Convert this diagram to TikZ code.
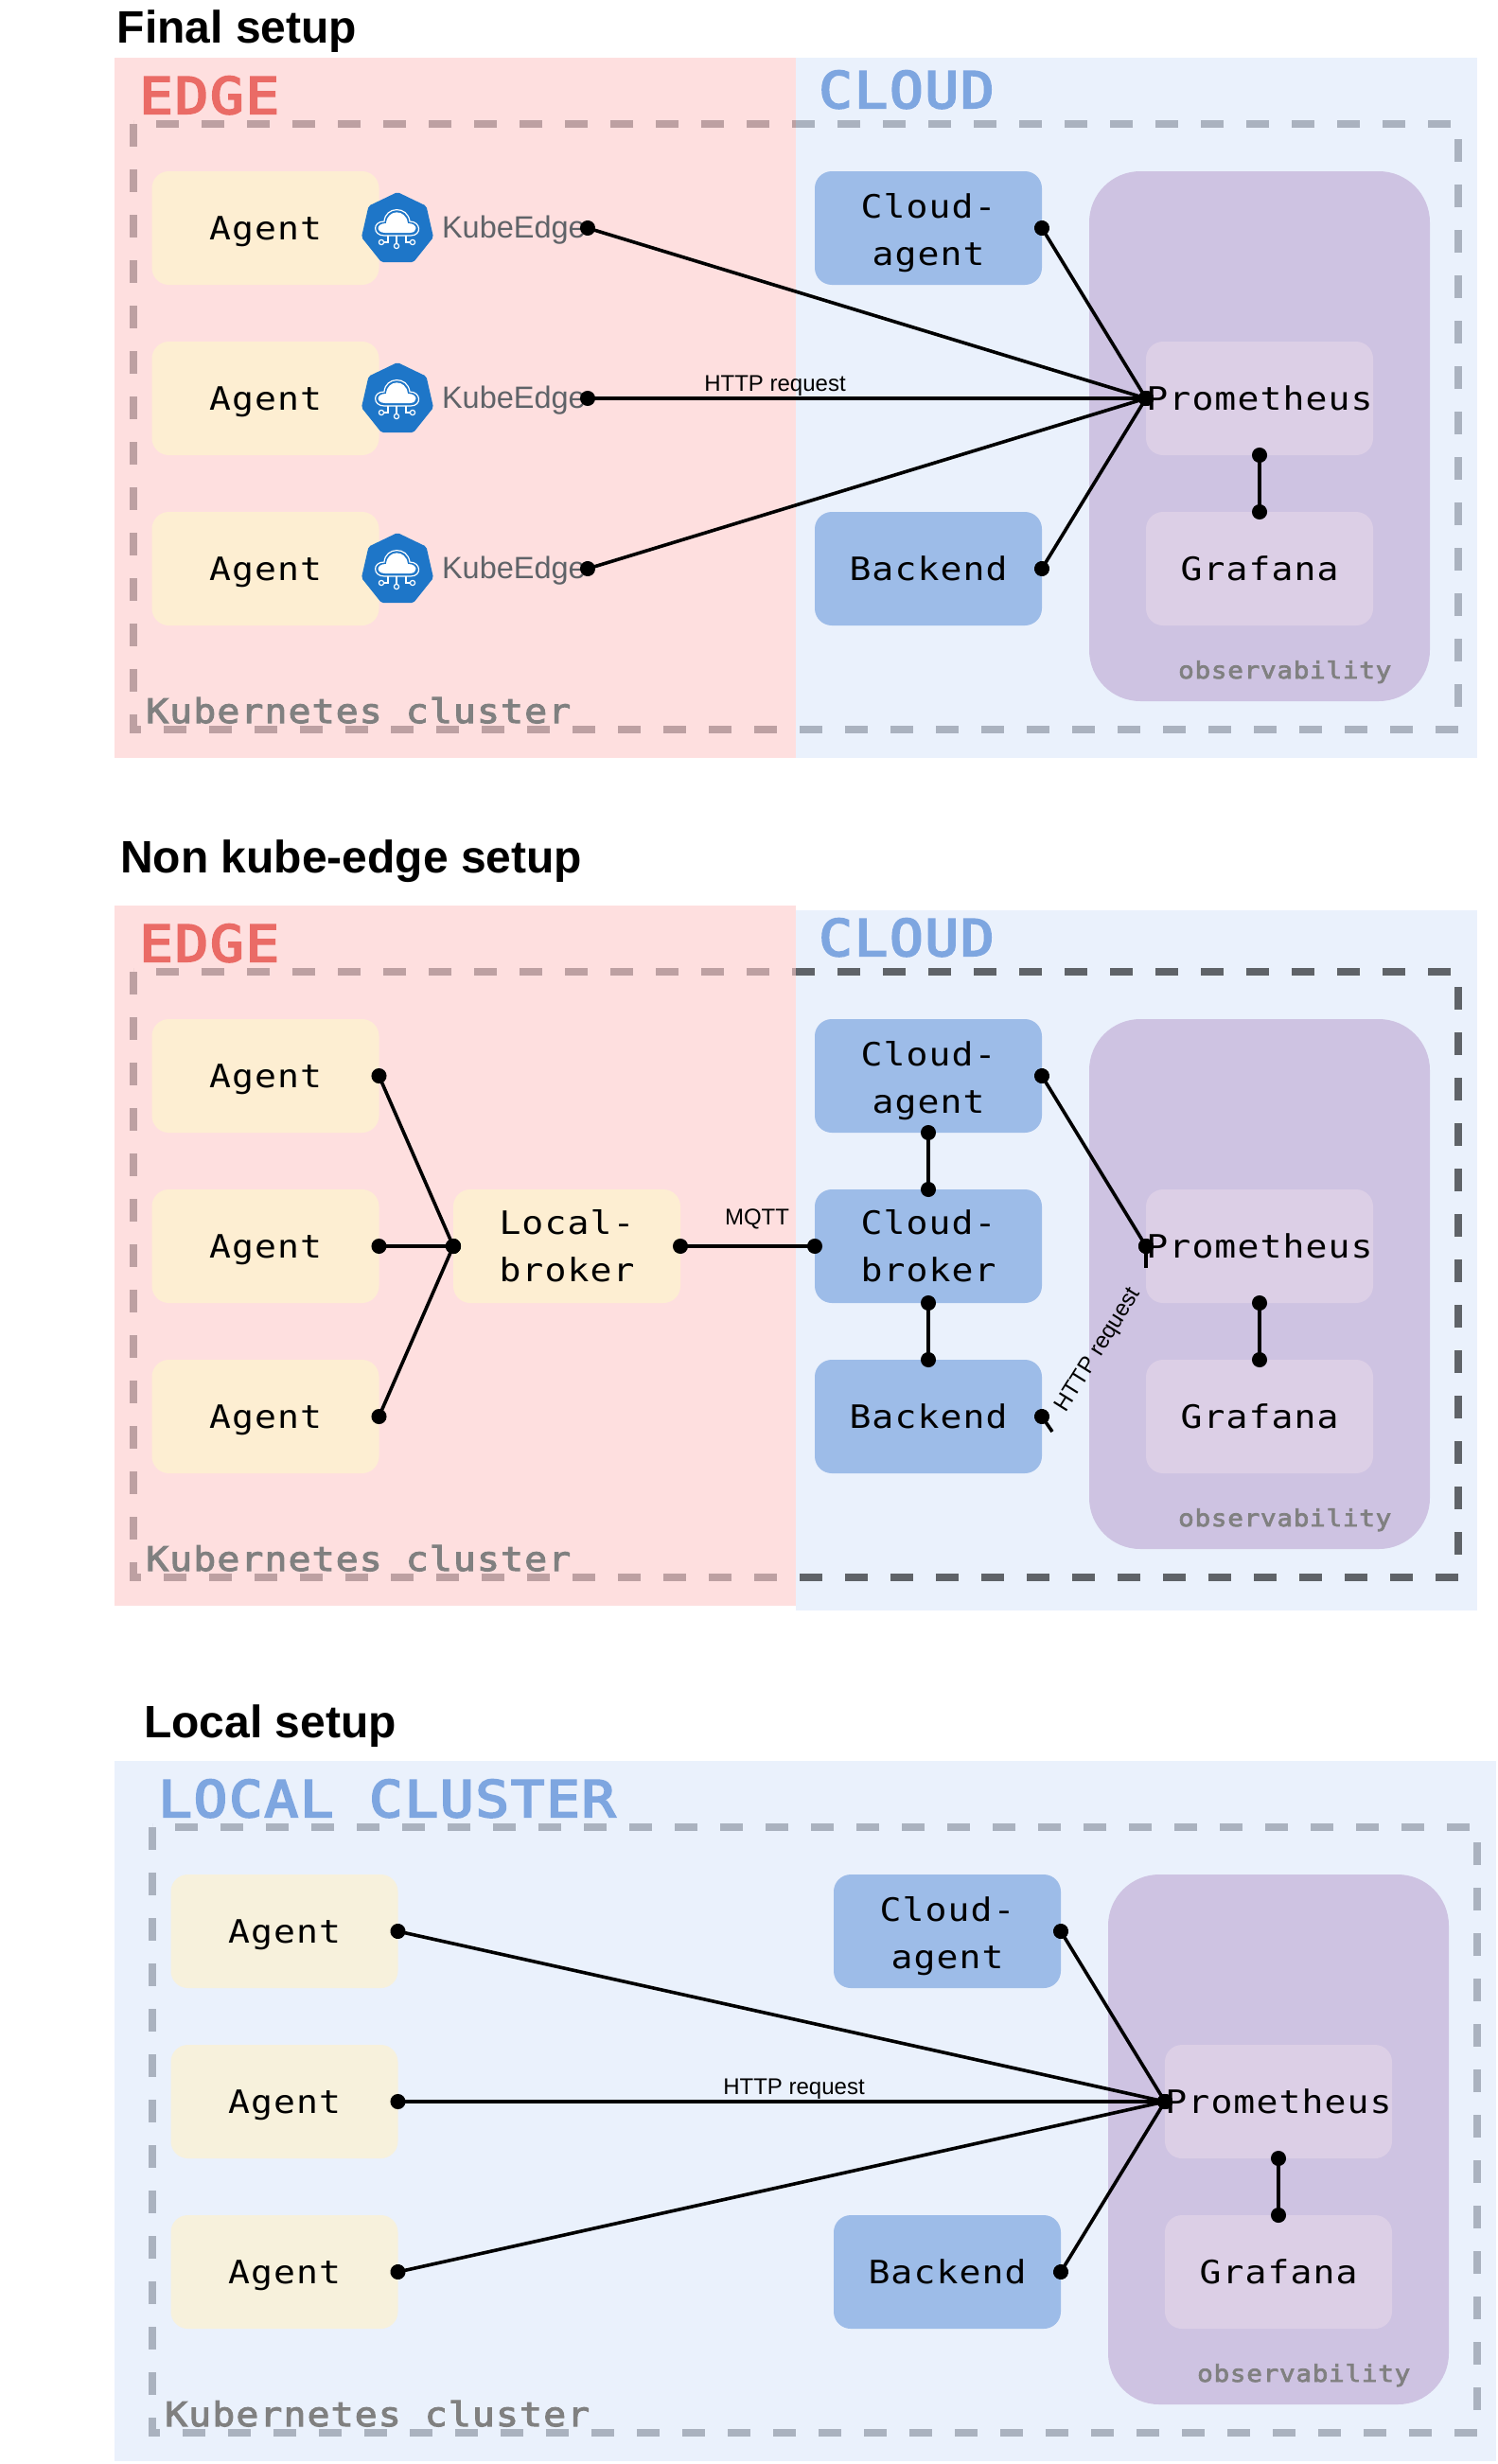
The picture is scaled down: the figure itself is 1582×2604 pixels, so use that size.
\documentclass[tikz,border=0pt]{standalone}
\usepackage{fontspec}
\usetikzlibrary{arrows.meta,shapes.geometric}
\setmainfont{Liberation Sans}
\newfontfamily\boxfont[FakeStretch=1.12,LetterSpace=3.2]{DejaVu Sans Mono}
\newfontfamily\zonefont[FakeStretch=1.12,LetterSpace=3.2,FakeBold=4]{DejaVu Sans Mono}
\newfontfamily\notefont[FakeStretch=1.12,LetterSpace=3.2,FakeBold=3]{DejaVu Sans Mono}
\definecolor{edgefill}{HTML}{FDCACA}
\definecolor{cloudfill}{HTML}{DCE7FA}
\definecolor{edgetext}{HTML}{EA6B66}
\definecolor{cloudtext}{HTML}{7EA6E0}
\definecolor{dashgrey}{HTML}{5F6368}
\definecolor{agentyellow}{HTML}{FDEED2}
\definecolor{agentpale}{HTML}{F7F1DC}
\definecolor{serviceblue}{HTML}{9DBCE8}
\definecolor{obspurple}{HTML}{CEC3E2}
\definecolor{obslight}{HTML}{DCCFE6}
\definecolor{kubeblue}{HTML}{1E76C8}
\tikzset{
  panelfill/.style={opacity=0.6},
  clusterline/.style={draw=dashgrey, line width=8pt, dash pattern=on 24pt off 24pt},
  plainbox/.style={inner sep=0pt, outer sep=0pt, minimum width=240pt, minimum height=120pt,
    rounded corners=18pt, align=center, font=\boxfont\fontsize{34}{50}\selectfont},
  oneline/.style={text height=25pt, text depth=0pt},
  agentbox/.style={plainbox, fill=agentyellow},
  agentlocal/.style={plainbox, fill=agentpale},
  servicebox/.style={plainbox, fill=serviceblue},
  obsbox/.style={plainbox, fill=obslight},
  obsgroup/.style={inner sep=0pt, outer sep=0pt, minimum width=360pt, minimum height=560pt,
    rounded corners=54pt, fill=obspurple},
  zonelabel/.style={anchor=base west, inner sep=0pt, font=\zonefont\fontsize{53}{60}\selectfont},
  clusterlabel/.style={anchor=base west, inner sep=0pt, text=gray, font=\notefont\fontsize{35.5}{40}\selectfont},
  obslabel/.style={anchor=base west, inner sep=0pt, text=gray, font=\notefont\fontsize{24.6}{30}\selectfont},
  setuptitle/.style={anchor=base west, inner sep=0pt, font=\bfseries\fontsize{48}{54}\selectfont},
  linklabel/.style={anchor=base, inner sep=0pt, font=\fontsize{24}{28}\selectfont},
  kubelabel/.style={anchor=east, inner sep=0pt, outer sep=0pt, text width=154pt, text height=20pt, text depth=0pt,
    text=dashgrey, font=\fontsize{32.5}{36}\selectfont},
  link/.style={line width=3.6pt, {Circle[length=16pt]}-{Circle[length=16pt]}, shorten <=-8pt, shorten >=-8pt},
  stublink/.style={line width=3.6pt, {Circle[length=16pt]}-, shorten <=-8pt},
  kubeicon/.pic={
    \node[regular polygon, regular polygon sides=7, fill=kubeblue, minimum size=78pt, inner sep=0pt, rounded corners=2pt] (-hex) {};
    % Cloud
    \draw[white, line width=1.2pt] (-14,7) .. controls (-26,7) and (-27,-8) .. (-14,-8) .. controls (-13,-24) and (11,-25) .. (13,-8) .. controls (25,-8) and (26,7) .. (14,7) -- cycle;
    \fill[white] (-13,4) .. controls (-23,4) and (-23,-6) .. (-12,-6) .. controls (-11,-21) and (9,-22) .. (11,-6) .. controls (22,-6) and (22,4) .. (13,4) -- cycle;
    % Circuit
    \draw[white, line width=1.2pt] (-1,7) -- (-1,15) (-10,7) -- (-10,14) -- (-14,14) (9,7) -- (9,14) -- (13,14);
    \draw[white, line width=1.2pt] (-1,18) circle (2.6) (-17,14) circle (2.6) (16,14) circle (2.6);
  }
}
\begin{document}
\begin{tikzpicture}[x=1pt, y=-1pt]
\useasboundingbox (0,0) rectangle (1582,2604);

% Final setup
\node[setuptitle] (titleA) at (123.5,46) {Final setup};
\draw[clusterline] (141,131) rectangle (1541,771);
\fill[edgefill, panelfill] (121,61) rectangle (841,801);
\fill[cloudfill, panelfill] (841,61) rectangle (1561,801);
\node[zonelabel, text=edgetext] (edgeA) at (147,120) {EDGE};
\node[zonelabel, text=cloudtext] (cloudA) at (865,114) {CLOUD};
\node[clusterlabel] (clusterA) at (154,764) {Kubernetes cluster};
% Agents
\node[agentbox, oneline] (agentA1) at (280.5,241) {Agent};
\node[agentbox, oneline] (agentA2) at (280.5,421) {Agent};
\node[agentbox, oneline] (agentA3) at (280.5,601) {Agent};
\pic (kubeA1) at (420,242) {kubeicon};
\pic (kubeA2) at (420,422) {kubeicon};
\pic (kubeA3) at (420,602) {kubeicon};
\node[kubelabel] (edgeA1) at (621,241) {KubeEdge};
\node[kubelabel] (edgeA2) at (621,421) {KubeEdge};
\node[kubelabel] (edgeA3) at (621,601) {KubeEdge};
% Cloud services
\node[servicebox] (cloudagentA) at (981,241) {\rule{0pt}{36pt}Cloud-\\agent};
\node[servicebox, oneline] (backendA) at (981,601) {Backend};
\node[obsgroup] (obsA) at (1331,461) {};
\node[obslabel] (obslabelA) at (1245,717) {observability};
\node[obsbox, oneline] (promA) at (1331,421) {Prometheus};
\node[obsbox, oneline] (grafanaA) at (1331,601) {Grafana};
% Links
\draw[link] (edgeA1.east) -- (promA.west);
\draw[link] (edgeA2.east) -- (promA.west);
\draw[link] (edgeA3.east) -- (promA.west);
\draw[link] (cloudagentA.east) -- (promA.west);
\draw[link] (backendA.east) -- (promA.west);
\draw[link] (promA.south) -- (grafanaA.north);
\node[linklabel] (httpA) at (819,413) {HTTP request};

% Non kube-edge setup
\node[setuptitle] (titleB) at (127,922) {Non kube-edge setup};
\fill[cloudfill, panelfill] (841,962) rectangle (1561,1702);
\draw[clusterline] (141,1027) rectangle (1541,1667);
\fill[edgefill, panelfill] (121,957) rectangle (841,1697);
\node[zonelabel, text=edgetext] (edgeB) at (147,1016) {EDGE};
\node[zonelabel, text=cloudtext] (cloudB) at (865,1010) {CLOUD};
\node[clusterlabel] (clusterB) at (154,1660) {Kubernetes cluster};
% Agents
\node[agentbox, oneline] (agentB1) at (280.5,1137) {Agent};
\node[agentbox, oneline] (agentB2) at (280.5,1317) {Agent};
\node[agentbox, oneline] (agentB3) at (280.5,1497) {Agent};
\node[agentbox] (brokerB) at (599,1317) {Local-\\broker};
% Cloud services
\node[servicebox] (cloudagentB) at (981,1137) {\rule{0pt}{36pt}Cloud-\\agent};
\node[servicebox] (cloudbrokerB) at (981,1317) {Cloud-\\broker};
\node[servicebox, oneline] (backendB) at (981,1497) {Backend};
\node[obsgroup] (obsB) at (1331,1357) {};
\node[obslabel] (obslabelB) at (1245,1613) {observability};
\node[obsbox, oneline] (promB) at (1331,1317) {Prometheus};
\node[obsbox, oneline] (grafanaB) at (1331,1497) {Grafana};
% Links
\draw[link] (agentB1.east) -- (brokerB.west);
\draw[link] (agentB2.east) -- (brokerB.west);
\draw[link] (agentB3.east) -- (brokerB.west);
\draw[link] (brokerB.east) -- (cloudbrokerB.west);
\draw[link] (cloudagentB.south) -- (cloudbrokerB.north);
\draw[link] (cloudbrokerB.south) -- (backendB.north);
\draw[link] (cloudagentB.east) -- (promB.west);
\draw[link] (promB.south) -- (grafanaB.north);
\coordinate (stubB1) at (1112,1513);
\coordinate (stubB2) at (1211,1340);
\draw[stublink] (backendB.east) -- (stubB1);
\draw[stublink] (promB.west) -- (stubB2);
\node[linklabel] (mqttB) at (800,1294) {MQTT};
\node[linklabel, anchor=center, rotate=58] (httpB) at (1161,1427) {HTTP request};

% Local setup
\node[setuptitle] (titleC) at (152,1836) {Local setup};
\draw[clusterline] (161,1931) rectangle (1561,2571);
\fill[cloudfill, panelfill] (121,1861) rectangle (1581,2601);
\node[zonelabel, text=cloudtext] (localC) at (167,1920) {LOCAL CLUSTER};
\node[clusterlabel] (clusterC) at (174,2564) {Kubernetes cluster};
% Agents
\node[agentlocal, oneline] (agentC1) at (300.5,2041) {Agent};
\node[agentlocal, oneline] (agentC2) at (300.5,2221) {Agent};
\node[agentlocal, oneline] (agentC3) at (300.5,2401) {Agent};
% Cloud services
\node[servicebox] (cloudagentC) at (1001,2041) {\rule{0pt}{36pt}Cloud-\\agent};
\node[servicebox, oneline] (backendC) at (1001,2401) {Backend};
\node[obsgroup] (obsC) at (1351,2261) {};
\node[obslabel] (obslabelC) at (1265,2517) {observability};
\node[obsbox, oneline] (promC) at (1351,2221) {Prometheus};
\node[obsbox, oneline] (grafanaC) at (1351,2401) {Grafana};
% Links
\draw[link] (agentC1.east) -- (promC.west);
\draw[link] (agentC2.east) -- (promC.west);
\draw[link] (agentC3.east) -- (promC.west);
\draw[link] (cloudagentC.east) -- (promC.west);
\draw[link] (backendC.east) -- (promC.west);
\draw[link] (promC.south) -- (grafanaC.north);
\node[linklabel] (httpC) at (839,2213) {HTTP request};
\end{tikzpicture}
\end{document}
